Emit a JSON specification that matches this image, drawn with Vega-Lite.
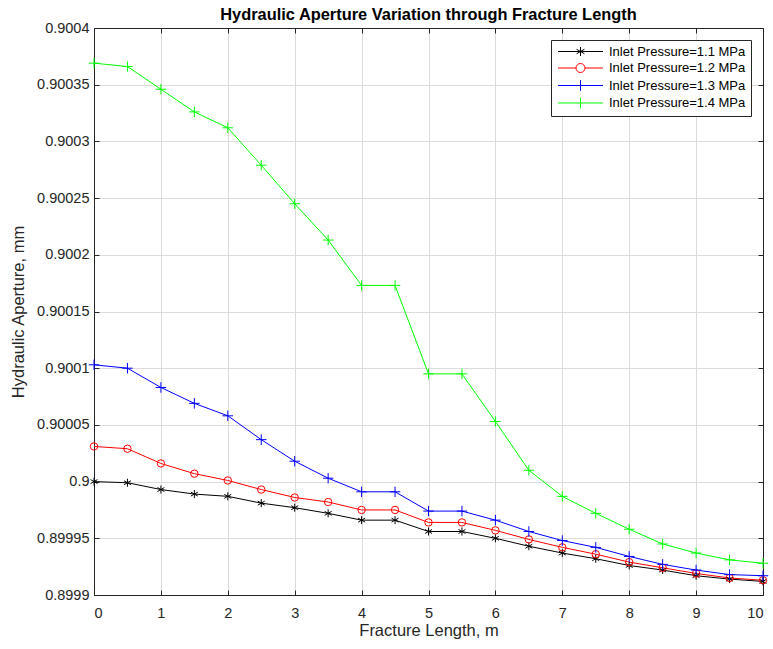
{
  "$schema": "https://vega.github.io/schema/vega-lite/v6.json",
  "width": 669,
  "height": 567,
  "autosize": {"type": "none"},
  "padding": {"left": 94, "top": 28, "right": 10, "bottom": 54},
  "background": "white",
  "config": {
    "font": "Liberation Sans",
    "view": {"stroke": "#262626", "strokeWidth": 1},
    "axis": {
      "labelFont": "Liberation Sans",
      "titleFont": "Liberation Sans",
      "labelColor": "#262626",
      "titleColor": "#262626",
      "labelFontSize": 14.5,
      "titleFontSize": 16.5,
      "titleFontWeight": "normal",
      "domainColor": "#262626",
      "tickColor": "#262626",
      "gridColor": "#dcdcdc",
      "gridOpacity": 1
    }
  },
  "title": {
    "text": "Hydraulic Aperture Variation through Fracture Length",
    "fontSize": 16.4,
    "fontWeight": "bold",
    "color": "#000000",
    "font": "Liberation Sans",
    "offset": -3
  },
  "data": {
    "values": [
      {"x": 0, "y": 0.9, "s": "Inlet Pressure=1.1 MPa"},
      {"x": 0.5, "y": 0.899999, "s": "Inlet Pressure=1.1 MPa"},
      {"x": 1, "y": 0.899993, "s": "Inlet Pressure=1.1 MPa"},
      {"x": 1.5, "y": 0.899989, "s": "Inlet Pressure=1.1 MPa"},
      {"x": 2, "y": 0.899987, "s": "Inlet Pressure=1.1 MPa"},
      {"x": 2.5, "y": 0.899981, "s": "Inlet Pressure=1.1 MPa"},
      {"x": 3, "y": 0.899977, "s": "Inlet Pressure=1.1 MPa"},
      {"x": 3.5, "y": 0.899972, "s": "Inlet Pressure=1.1 MPa"},
      {"x": 4, "y": 0.899966, "s": "Inlet Pressure=1.1 MPa"},
      {"x": 4.5, "y": 0.899966, "s": "Inlet Pressure=1.1 MPa"},
      {"x": 5, "y": 0.899956, "s": "Inlet Pressure=1.1 MPa"},
      {"x": 5.5, "y": 0.899956, "s": "Inlet Pressure=1.1 MPa"},
      {"x": 6, "y": 0.89995, "s": "Inlet Pressure=1.1 MPa"},
      {"x": 6.5, "y": 0.899943, "s": "Inlet Pressure=1.1 MPa"},
      {"x": 7, "y": 0.899937, "s": "Inlet Pressure=1.1 MPa"},
      {"x": 7.5, "y": 0.899932, "s": "Inlet Pressure=1.1 MPa"},
      {"x": 8, "y": 0.899926, "s": "Inlet Pressure=1.1 MPa"},
      {"x": 8.5, "y": 0.899922, "s": "Inlet Pressure=1.1 MPa"},
      {"x": 9, "y": 0.899917, "s": "Inlet Pressure=1.1 MPa"},
      {"x": 9.5, "y": 0.899914, "s": "Inlet Pressure=1.1 MPa"},
      {"x": 10, "y": 0.899912, "s": "Inlet Pressure=1.1 MPa"},
      {"x": 0, "y": 0.900031, "s": "Inlet Pressure=1.2 MPa"},
      {"x": 0.5, "y": 0.900029, "s": "Inlet Pressure=1.2 MPa"},
      {"x": 1, "y": 0.900016, "s": "Inlet Pressure=1.2 MPa"},
      {"x": 1.5, "y": 0.900007, "s": "Inlet Pressure=1.2 MPa"},
      {"x": 2, "y": 0.900001, "s": "Inlet Pressure=1.2 MPa"},
      {"x": 2.5, "y": 0.899993, "s": "Inlet Pressure=1.2 MPa"},
      {"x": 3, "y": 0.899986, "s": "Inlet Pressure=1.2 MPa"},
      {"x": 3.5, "y": 0.899982, "s": "Inlet Pressure=1.2 MPa"},
      {"x": 4, "y": 0.899975, "s": "Inlet Pressure=1.2 MPa"},
      {"x": 4.5, "y": 0.899975, "s": "Inlet Pressure=1.2 MPa"},
      {"x": 5, "y": 0.899964, "s": "Inlet Pressure=1.2 MPa"},
      {"x": 5.5, "y": 0.899964, "s": "Inlet Pressure=1.2 MPa"},
      {"x": 6, "y": 0.899957, "s": "Inlet Pressure=1.2 MPa"},
      {"x": 6.5, "y": 0.899949, "s": "Inlet Pressure=1.2 MPa"},
      {"x": 7, "y": 0.899942, "s": "Inlet Pressure=1.2 MPa"},
      {"x": 7.5, "y": 0.899936, "s": "Inlet Pressure=1.2 MPa"},
      {"x": 8, "y": 0.899929, "s": "Inlet Pressure=1.2 MPa"},
      {"x": 8.5, "y": 0.899924, "s": "Inlet Pressure=1.2 MPa"},
      {"x": 9, "y": 0.899919, "s": "Inlet Pressure=1.2 MPa"},
      {"x": 9.5, "y": 0.899915, "s": "Inlet Pressure=1.2 MPa"},
      {"x": 10, "y": 0.899913, "s": "Inlet Pressure=1.2 MPa"},
      {"x": 0, "y": 0.900103, "s": "Inlet Pressure=1.3 MPa"},
      {"x": 0.5, "y": 0.9001, "s": "Inlet Pressure=1.3 MPa"},
      {"x": 1, "y": 0.900083, "s": "Inlet Pressure=1.3 MPa"},
      {"x": 1.5, "y": 0.900069, "s": "Inlet Pressure=1.3 MPa"},
      {"x": 2, "y": 0.900058, "s": "Inlet Pressure=1.3 MPa"},
      {"x": 2.5, "y": 0.900037, "s": "Inlet Pressure=1.3 MPa"},
      {"x": 3, "y": 0.900018, "s": "Inlet Pressure=1.3 MPa"},
      {"x": 3.5, "y": 0.900003, "s": "Inlet Pressure=1.3 MPa"},
      {"x": 4, "y": 0.899991, "s": "Inlet Pressure=1.3 MPa"},
      {"x": 4.5, "y": 0.899991, "s": "Inlet Pressure=1.3 MPa"},
      {"x": 5, "y": 0.899974, "s": "Inlet Pressure=1.3 MPa"},
      {"x": 5.5, "y": 0.899974, "s": "Inlet Pressure=1.3 MPa"},
      {"x": 6, "y": 0.899966, "s": "Inlet Pressure=1.3 MPa"},
      {"x": 6.5, "y": 0.899956, "s": "Inlet Pressure=1.3 MPa"},
      {"x": 7, "y": 0.899948, "s": "Inlet Pressure=1.3 MPa"},
      {"x": 7.5, "y": 0.899942, "s": "Inlet Pressure=1.3 MPa"},
      {"x": 8, "y": 0.899934, "s": "Inlet Pressure=1.3 MPa"},
      {"x": 8.5, "y": 0.899927, "s": "Inlet Pressure=1.3 MPa"},
      {"x": 9, "y": 0.899922, "s": "Inlet Pressure=1.3 MPa"},
      {"x": 9.5, "y": 0.899918, "s": "Inlet Pressure=1.3 MPa"},
      {"x": 10, "y": 0.899917, "s": "Inlet Pressure=1.3 MPa"},
      {"x": 0, "y": 0.900369, "s": "Inlet Pressure=1.4 MPa"},
      {"x": 0.5, "y": 0.900366, "s": "Inlet Pressure=1.4 MPa"},
      {"x": 1, "y": 0.900346, "s": "Inlet Pressure=1.4 MPa"},
      {"x": 1.5, "y": 0.900326, "s": "Inlet Pressure=1.4 MPa"},
      {"x": 2, "y": 0.900312, "s": "Inlet Pressure=1.4 MPa"},
      {"x": 2.5, "y": 0.900279, "s": "Inlet Pressure=1.4 MPa"},
      {"x": 3, "y": 0.900245, "s": "Inlet Pressure=1.4 MPa"},
      {"x": 3.5, "y": 0.900213, "s": "Inlet Pressure=1.4 MPa"},
      {"x": 4, "y": 0.900173, "s": "Inlet Pressure=1.4 MPa"},
      {"x": 4.5, "y": 0.900173, "s": "Inlet Pressure=1.4 MPa"},
      {"x": 5, "y": 0.900095, "s": "Inlet Pressure=1.4 MPa"},
      {"x": 5.5, "y": 0.900095, "s": "Inlet Pressure=1.4 MPa"},
      {"x": 6, "y": 0.900053, "s": "Inlet Pressure=1.4 MPa"},
      {"x": 6.5, "y": 0.90001, "s": "Inlet Pressure=1.4 MPa"},
      {"x": 7, "y": 0.899987, "s": "Inlet Pressure=1.4 MPa"},
      {"x": 7.5, "y": 0.899972, "s": "Inlet Pressure=1.4 MPa"},
      {"x": 8, "y": 0.899958, "s": "Inlet Pressure=1.4 MPa"},
      {"x": 8.5, "y": 0.899945, "s": "Inlet Pressure=1.4 MPa"},
      {"x": 9, "y": 0.899937, "s": "Inlet Pressure=1.4 MPa"},
      {"x": 9.5, "y": 0.899931, "s": "Inlet Pressure=1.4 MPa"},
      {"x": 10, "y": 0.899928, "s": "Inlet Pressure=1.4 MPa"}
    ]
  },
  "layer": [
    {
      "mark": {"type": "line", "strokeWidth": 1, "clip": true},
      "encoding": {
        "x": {
          "field": "x", "type": "quantitative",
          "scale": {"domain": [0, 10], "nice": false, "zero": false},
          "axis": {
            "orient": "bottom",
            "title": "Fracture Length, m",
            "values": [0, 1, 2, 3, 4, 5, 6, 7, 8, 9, 10],
            "grid": true,
            "tickSize": -5,
            "labelPadding": 16,
            "titlePadding": 3
          }
        },
        "y": {
          "field": "y", "type": "quantitative",
          "scale": {"domain": [0.8999, 0.9004], "nice": false, "zero": false},
          "axis": {
            "orient": "left",
            "title": "Hydraulic Aperture, mm",
            "values": [0.8999, 0.89995, 0.9, 0.90005, 0.9001, 0.90015, 0.9002, 0.90025, 0.9003, 0.90035, 0.9004],
            "format": ".5~f",
            "grid": true,
            "tickSize": -5,
            "labelPadding": 10,
            "titlePadding": 10
          }
        },
        "stroke": {
          "field": "s", "type": "nominal",
          "scale": {
            "domain": ["Inlet Pressure=1.1 MPa", "Inlet Pressure=1.2 MPa", "Inlet Pressure=1.3 MPa", "Inlet Pressure=1.4 MPa"],
            "range": ["#000000", "#ff0000", "#0000ff", "#00ff00"]
          },
          "legend": {
            "title": null,
            "orient": "top-right",
            "offset": 12,
            "strokeColor": "#262626",
            "fillColor": "white",
            "padding": 5,
            "labelFont": "Liberation Sans",
            "labelFontSize": 13,
            "labelColor": "#000000",
            "symbolSize": 81,
            "symbolStrokeWidth": 1,
            "labelOffset": 40,
            "rowPadding": 2.5,
            "encoding": {
              "symbols": {
                "shape": {"value": {"expr": "['M-1,0L9,0M4,-1L4,1M3.13,-0.5L4.87,0.5M3.13,0.5L4.87,-0.5', 'M-1,0L3,0M5,0L9,0M5,0A1,1 0 1,1 3,0A1,1 0 1,1 5,0', 'M-1,0L9,0M4,-1.2L4,1.2', 'M-1,0L9,0M4,-1.2L4,1.2'][datum.index]"}},
                "fill": {"value": "transparent"},
                "strokeWidth": {"value": 1}
              }
            }
          }
        },
        "detail": {"field": "s"}
      }
    },
    {
      "transform": [{"filter": "datum.s == 'Inlet Pressure=1.1 MPa'"}],
      "mark": {"type": "point", "shape": "M0,-1L0,1M-0.87,-0.5L0.87,0.5M-0.87,0.5L0.87,-0.5", "size": 64, "filled": false, "strokeWidth": 1, "opacity": 1, "color": "#000000"},
      "encoding": {
        "x": {
          "field": "x", "type": "quantitative",
          "axis": {"orient": "top", "labels": false, "title": null, "grid": false, "tickSize": -5, "values": [0, 1, 2, 3, 4, 5, 6, 7, 8, 9, 10]}
        },
        "y": {
          "field": "y", "type": "quantitative",
          "axis": {"orient": "right", "labels": false, "title": null, "grid": false, "tickSize": -5, "values": [0.8999, 0.89995, 0.9, 0.90005, 0.9001, 0.90015, 0.9002, 0.90025, 0.9003, 0.90035, 0.9004]}
        }
      }
    },
    {
      "transform": [{"filter": "datum.s == 'Inlet Pressure=1.2 MPa'"}],
      "mark": {"type": "point", "shape": "circle", "size": 55, "filled": false, "strokeWidth": 1, "opacity": 1, "color": "#ff0000"},
      "encoding": {
        "x": {"field": "x", "type": "quantitative", "axis": null},
        "y": {"field": "y", "type": "quantitative", "axis": null}
      }
    },
    {
      "transform": [{"filter": "datum.s == 'Inlet Pressure=1.3 MPa' || datum.s == 'Inlet Pressure=1.4 MPa'"}],
      "mark": {"type": "point", "shape": "M-1,0L1,0M0,-1L0,1", "size": 110, "filled": false, "strokeWidth": 1, "opacity": 1},
      "encoding": {
        "x": {"field": "x", "type": "quantitative", "axis": null},
        "y": {"field": "y", "type": "quantitative", "axis": null},
        "color": {
          "field": "s", "type": "nominal",
          "scale": {
            "domain": ["Inlet Pressure=1.3 MPa", "Inlet Pressure=1.4 MPa"],
            "range": ["#0000ff", "#00ff00"]
          },
          "legend": null
        }
      }
    }
  ],
  "resolve": {"axis": {"x": "independent", "y": "independent"}, "scale": {"color": "independent"}}
}
